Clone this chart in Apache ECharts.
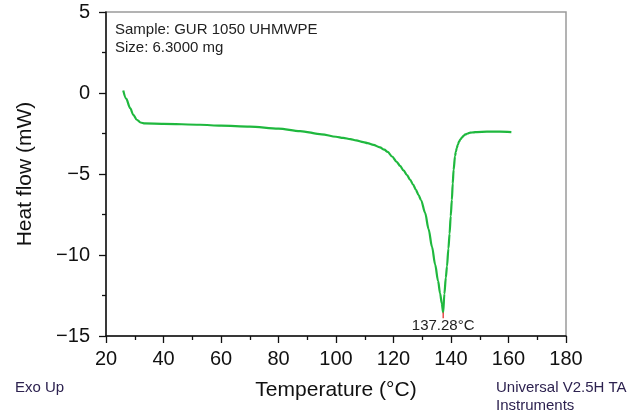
<!DOCTYPE html>
<html>
<head>
<meta charset="utf-8">
<script src="https://cdn.jsdelivr.net/npm/echarts@6/dist/echarts.min.js"></script>
<style>html,body{margin:0;padding:0;background:#fff}#c{width:635px;height:416px}</style>
</head>
<body>
<div id="c"></div>
<script>
// Temperature (°C)
var temperature = [26.0,27.0,28.4,29.5,30.7,32.0,33.5,40,52.7,60,70,80,87.5,95,100,102.5,105,107,109.5,111,113,115.3,116.8,118,119.5,121.1,122.3,123.5,124.7,125.8,126.8,127.8,128.7,129.6,131,132.2,133.4,134.5,135.5,136.2,136.8,137.28,137.7,138.2,138.6,139.1,139.5,139.9,140.3,140.6,140.9,141.4,141.7,142.0,142.4,142.8,143.3,143.8,144.4,145,145.8,146.7,147.8,149,152.5,157,161];
// Heat flow (mW)
var heatFlow = [0.15,-0.35,-0.93,-1.35,-1.65,-1.82,-1.88,-1.9,-1.96,-2.02,-2.08,-2.2,-2.35,-2.55,-2.7,-2.77,-2.85,-2.93,-3.03,-3.1,-3.2,-3.36,-3.5,-3.64,-3.92,-4.25,-4.5,-4.78,-5.07,-5.36,-5.65,-5.98,-6.3,-6.62,-7.4,-8.4,-9.5,-10.6,-11.6,-12.36,-13.0,-13.55,-12.4,-11.4,-10.7,-9.6,-8.7,-7.6,-6.6,-5.6,-4.75,-3.9,-3.62,-3.4,-3.18,-3.0,-2.86,-2.75,-2.64,-2.55,-2.5,-2.45,-2.43,-2.41,-2.39,-2.39,-2.42];
var peakT = [137.28, 137.28];
var peakV = [-13.55, -13.9];
var peakLabel = '137.28°C';
var xTicks = [20,40,60,80,100,120,140,160,180];
var yTicks = [-15,-10,-5,0,5];
var sampleText = ['Sample: GUR 1050 UHMWPE','Size: 6.3000 mg'];

var FONT = "'Liberation Sans', Arial, Helvetica, sans-serif";
var chart = echarts.init(document.getElementById('c'), null, {renderer:'canvas'});
var curve = temperature.map(function(t,i){return [t, heatFlow[i]];});
var peak = peakT.map(function(t,i){return [t, peakV[i]];});
chart.setOption({
  animation:false,
  backgroundColor:'#fff',
  grid:{left:106, right:69, top:12, bottom:80, show:true, borderColor:'#9a9a9a', borderWidth:1.5, backgroundColor:'transparent'},
  xAxis:{type:'value', min:xTicks[0], max:xTicks[xTicks.length-1], interval:20,
    name:'Temperature (°C)', nameLocation:'middle', nameGap:44,
    nameTextStyle:{fontFamily:FONT, fontSize:21, color:'#111'},
    axisLine:{show:true, onZero:false, lineStyle:{color:'#111', width:1.5}},
    axisTick:{show:true, inside:false, length:7, lineStyle:{color:'#111', width:1.3}},
    minorTick:{show:true, splitNumber:2, length:4, lineStyle:{color:'#111', width:1.3}},
    axisLabel:{fontFamily:FONT, fontSize:20, color:'#111', margin:13},
    splitLine:{show:false}
  },
  yAxis:{type:'value', min:yTicks[0], max:yTicks[yTicks.length-1], interval:5,
    name:'Heat flow (mW)', nameLocation:'middle', nameGap:70,
    nameTextStyle:{fontFamily:FONT, fontSize:21, color:'#111'},
    axisLine:{show:true, onZero:false, lineStyle:{color:'#111', width:1.5}},
    axisTick:{show:true, inside:false, length:7, lineStyle:{color:'#111', width:1.3}},
    minorTick:{show:true, splitNumber:2, length:4, lineStyle:{color:'#111', width:1.3}},
    axisLabel:{fontFamily:FONT, fontSize:20, color:'#111', margin:16,
      formatter:function(v){return String(v).replace('-','\u2212');}},
    splitLine:{show:false}
  },
  series:[
    {type:'line', data:curve, showSymbol:false, smooth:0.3, smoothMonotone:'x',
      lineStyle:{color:'#1fb83e', width:2.2}, z:3},
    {type:'line', data:peak, showSymbol:false, lineStyle:{color:'#e02020', width:1.2}, z:4,
      label:{show:false},
      markPoint:{symbol:'circle', symbolSize:0, data:[{coord:peak[1], value:peakLabel}],
        label:{show:true, position:'bottom', distance:0, formatter:peakLabel, fontFamily:FONT, fontSize:15, color:'#222'}}
    }
  ],
  graphic:[
    {type:'text', left:115, top:21, style:{text:sampleText.join('\n'), fontFamily:FONT, fontSize:15, lineHeight:18, fill:'#222'}},
    {type:'text', left:15, top:380, style:{text:'Exo Up', fontFamily:FONT, fontSize:15, fill:'#2d2250'}},
    {type:'text', left:496, top:379, style:{text:'Universal V2.5H TA\nInstruments', fontFamily:FONT, fontSize:15, lineHeight:18, fill:'#2d2250'}}
  ]
});
</script>
</body>
</html>
